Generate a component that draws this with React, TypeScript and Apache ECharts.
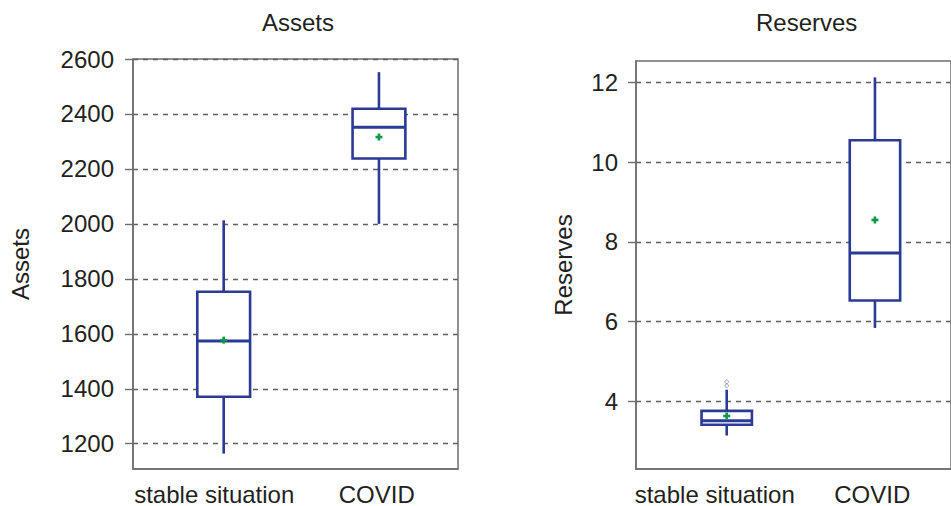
import React, { useEffect, useRef } from 'react';
import * as echarts from 'echarts';

const categories = ['stable situation', 'COVID'];
const boxPositions = [1, 2];
// [min, Q1, median, Q3, max, mean]
const assetsStats = [
  [1164, 1371, 1574, 1753, 2013, 1577],
  [2000, 2238, 2352, 2419, 2552, 2316],
];
const reservesStats = [
  [3.14, 3.41, 3.51, 3.76, 4.29, 3.63],
  [5.84, 6.53, 7.72, 10.55, 12.13, 8.55],
];
const reservesOutliers = [
  [1, 4.49],
  [1, 4.39],
];
const assetsTicks = [1200, 1400, 1600, 1800, 2000, 2200, 2400, 2600];
const reservesTicks = [4, 6, 8, 10, 12];

const FONT = '"Liberation Sans", Arial, sans-serif';
const FS = 24;
const TEXT = '#231f20';
const BOX = '#2b3a94';
const MEAN = '#0b9a48';
const GRAYLINE = '#6e6e6e';

function renderBox(params: any, api: any) {
  const x = api.value(0);
  const pMin = api.coord([x, api.value(1)]);
  const pQ1 = api.coord([x, api.value(2)]);
  const pMed = api.coord([x, api.value(3)]);
  const pQ3 = api.coord([x, api.value(4)]);
  const pMax = api.coord([x, api.value(5)]);
  const pMean = api.coord([x, api.value(6)]);
  const halfW = api.size([0.34, 0])[0] / 2;
  const cx = pMin[0];
  const ls = { stroke: BOX, lineWidth: 2.6, fill: 'none' };
  const ms = { stroke: MEAN, lineWidth: 2.6, fill: 'none' };
  return {
    type: 'group',
    children: [
      { type: 'line', shape: { x1: cx, y1: pMax[1], x2: cx, y2: pQ3[1] }, style: ls },
      { type: 'line', shape: { x1: cx, y1: pQ1[1], x2: cx, y2: pMin[1] }, style: ls },
      {
        type: 'rect',
        shape: { x: cx - halfW, y: pQ3[1], width: halfW * 2, height: pQ1[1] - pQ3[1] },
        style: { stroke: BOX, lineWidth: 2.6, fill: '#ffffff' },
      },
      { type: 'line', shape: { x1: cx - halfW, y1: pMed[1], x2: cx + halfW, y2: pMed[1] }, style: { ...ls, lineWidth: 3 } },
      { type: 'line', shape: { x1: cx - 3.5, y1: pMean[1], x2: cx + 3.5, y2: pMean[1] }, style: ms },
      { type: 'line', shape: { x1: cx, y1: pMean[1] - 3.5, x2: cx, y2: pMean[1] + 3.5 }, style: ms },
    ],
  };
}

function yAxisCfg(grid: number, name: string, min: number, max: number, ticks: number[], gap: number, margin: number) {
  return {
    type: 'value',
    gridIndex: grid,
    min,
    max,
    name,
    nameLocation: 'middle',
    nameRotate: 90,
    nameGap: gap,
    nameTextStyle: { fontSize: FS, color: TEXT, fontFamily: FONT },
    axisLine: { show: true, lineStyle: { color: GRAYLINE, width: 1.5 } },
    axisTick: { show: true, length: 8, customValues: ticks, lineStyle: { color: GRAYLINE, width: 1.4 } },
    axisLabel: {
      customValues: ticks,
      margin,
      fontSize: FS,
      color: TEXT,
      fontFamily: FONT,
      formatter: (v: number) => String(v),
    },
    splitLine: { show: true, lineStyle: { color: '#606060', width: 1.4, type: [5, 5] } },
  };
}

function catAxis(grid: number) {
  return {
    type: 'category',
    gridIndex: grid,
    data: categories,
    boundaryGap: true,
    axisLine: { show: true, lineStyle: { color: GRAYLINE, width: 1.5 } },
    axisTick: { show: false },
    axisLabel: { margin: 13, fontSize: FS, color: TEXT, fontFamily: FONT, interval: 0 },
    splitLine: { show: false },
  };
}

export default function App() {
  const ref = useRef<HTMLDivElement>(null);
  useEffect(() => {
    if (!ref.current) return;
    const chart = echarts.init(ref.current, null, { renderer: 'svg' });
    const assetsData = assetsStats.map((s, i) => [boxPositions[i], ...s]);
    const reservesData = reservesStats.map((s, i) => [boxPositions[i], ...s]);
    chart.setOption({
      animation: false,
      backgroundColor: '#ffffff',
      title: [
        { text: 'Assets', left: 257, top: 5, textStyle: { fontSize: FS, fontWeight: 'normal', color: TEXT, fontFamily: FONT } },
        { text: 'Reserves', left: 751, top: 5, textStyle: { fontSize: FS, fontWeight: 'normal', color: TEXT, fontFamily: FONT } },
      ],
      grid: [
        { left: 133, top: 59, width: 325, height: 414, show: true, borderColor: GRAYLINE, borderWidth: 1.5, backgroundColor: 'transparent' },
        { left: 636, top: 61, width: 330, height: 415, show: true, borderColor: GRAYLINE, borderWidth: 1.5, backgroundColor: 'transparent' },
      ],
      xAxis: [
        catAxis(0),
        { type: 'value', gridIndex: 0, min: 0.416, max: 2.509, show: false },
        catAxis(1),
        { type: 'value', gridIndex: 1, min: 0.388, max: 2.513, show: false },
      ],
      yAxis: [
        yAxisCfg(0, 'Assets', 1108, 2600, assetsTicks, 101, 19),
        yAxisCfg(1, 'Reserves', 2.3, 12.54, reservesTicks, 61, 18),
      ],
      series: [
        {
          type: 'custom',
          xAxisIndex: 1,
          yAxisIndex: 0,
          renderItem: renderBox,
          encode: { x: 0, y: [1, 2, 3, 4, 5] },
          data: assetsData,
          z: 5,
        },
        {
          type: 'custom',
          xAxisIndex: 3,
          yAxisIndex: 1,
          renderItem: renderBox,
          encode: { x: 0, y: [1, 2, 3, 4, 5] },
          data: reservesData,
          z: 5,
        },
        {
          type: 'scatter',
          xAxisIndex: 3,
          yAxisIndex: 1,
          symbol: 'circle',
          symbolSize: 3.5,
          itemStyle: { color: '#ffffff', borderColor: '#7d8ccc', borderWidth: 1 },
          data: reservesOutliers,
          z: 6,
        },
      ],
    });
    return () => chart.dispose();
  }, []);
  return <div ref={ref} style={{ position: 'fixed', left: 0, top: 0, width: 951, height: 506 }} />;
}
